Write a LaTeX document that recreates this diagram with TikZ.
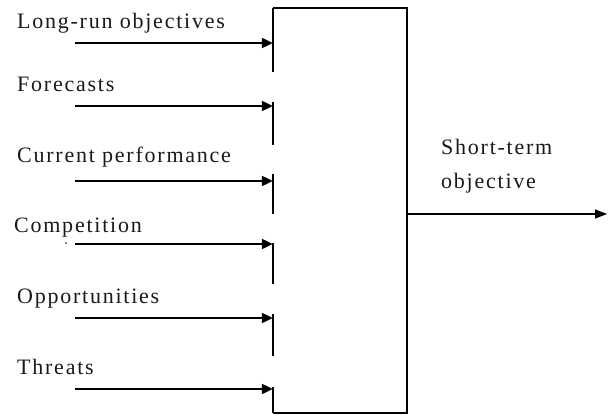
\documentclass[tikz,border=0pt]{standalone}
\usepackage{fontspec}
\setmainfont{Liberation Serif}[LetterSpace=8]
\usetikzlibrary{arrows.meta}
\begin{document}
\begin{tikzpicture}[x=1pt,y=-1pt,
  lbl/.style={anchor=base west,inner sep=0pt,font=\fontsize{22}{26}\selectfont,text=black!90},
  inarrow/.style={line width=2.2pt,-{Triangle[length=11pt,width=10pt]}},
  outarrow/.style={line width=1.4pt,-{Triangle[length=12pt,width=9pt]}},
  thin edge/.style={line width=1.6pt},
  thick edge/.style={line width=2.4pt}]
\useasboundingbox (0,0) rectangle (608,417);
% box
\node (box) [inner sep=0pt,minimum width=134pt,minimum height=405pt] at (340,210.5) {};
\draw[thin edge] (box.north west) -- (box.north east) -- (box.south east) -- (box.south west);
% left edge segments
\foreach \a/\b in {8/72,102/145,174/214,243/284,314/356,387/413}
  \draw[thick edge] (273,\a) -- (273,\b);
% labels
\node[lbl] (l1) at (17,29) {Long-run objectives};
\node[lbl] (l2) at (17,92) {Forecasts};
\node[lbl] (l3) at (17,163) {Current performance};
\node[lbl] (l4) at (14,232) {Competition};
\node[lbl] (l5) at (17,303) {Opportunities};
\node[lbl] (l6) at (17,374) {Threats};
\node[lbl] (o1) at (441,155) {Short-term};
\node[lbl] (o2) at (441,189) {objective};
% inputs
\foreach \i/\y in {1/43,2/106,3/181,4/244,5/318,6/389}{
  \coordinate (s\i) at (75,\y);
  \draw[inarrow] (s\i) -- (s\i -| box.west);
}
\fill (66,243) circle (0.9pt);
% output
\coordinate (out) at (607,214);
\draw[outarrow] (box.east |- out) -- (out);
\end{tikzpicture}
\end{document}
